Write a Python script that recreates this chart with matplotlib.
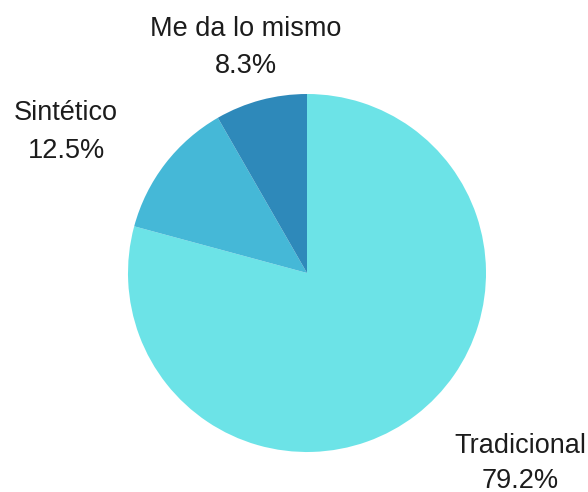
import matplotlib
matplotlib.use("Agg")
import matplotlib.pyplot as plt

categories = ["Tradicional", "Sintético", "Me da lo mismo"]
shares = [79.2, 12.5, 8.3]
colors = ["#6ce3e7", "#45b8d7", "#2e89ba"]

# label anchors: x centre and baselines of the two lines (pixels from top)
label_pos = {
    "Tradicional": (520, 453, 488),
    "Sintético": (66, 120, 158),
    "Me da lo mismo": (246, 36, 73),
}

W, H = 588, 492
fig = plt.figure(figsize=(W / 100, H / 100), dpi=100)
ax = fig.add_axes([0, 0, 1, 1])

ax.pie(shares, colors=colors, startangle=90, counterclock=False,
       center=(307, H - 273), radius=179, frame=True,
       wedgeprops=dict(linewidth=0))
ax.set_xlim(0, W)
ax.set_ylim(0, H)
ax.set_aspect("equal")
ax.axis("off")

style = dict(ha="center", va="baseline", fontsize=19.5,
             family="Liberation Sans", color="#1c1c1c")
for cat, val in zip(categories, shares):
    x, y1, y2 = label_pos[cat]
    ax.text(x, H - y1, cat, **style)
    ax.text(x, H - y2, f"{val:.1f}%", **style)

fig.savefig("out.png", dpi=100)
